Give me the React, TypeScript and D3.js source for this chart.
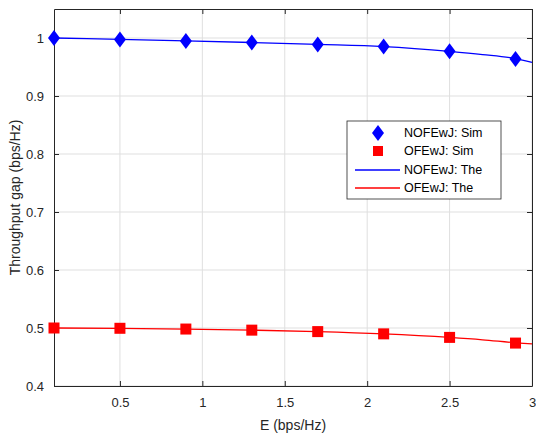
import React, { useRef, useEffect } from "react";
import * as d3 from "d3";

// simulated points
const simE = [0.1, 0.5, 0.9, 1.3, 1.7, 2.1, 2.5, 2.9];
const nofeSim = [1.0, 0.9975, 0.995, 0.9922, 0.989, 0.9853, 0.977, 0.964];
const ofeSim = [0.5, 0.4995, 0.4982, 0.4963, 0.4938, 0.4899, 0.4838, 0.474];

// theoretical curves
const theE = [0.1, 0.5, 0.9, 1.3, 1.7, 2.1, 2.5, 2.7, 2.9, 3.0];
const nofeThe = [1.0, 0.9975, 0.995, 0.9922, 0.989, 0.9853, 0.977, 0.9715, 0.9645, 0.958];
const ofeThe = [0.5, 0.4995, 0.4982, 0.4963, 0.4938, 0.4899, 0.4838, 0.4797, 0.4745, 0.4725];

const xTicks = [0.5, 1, 1.5, 2, 2.5, 3];
const yTicks = [0.4, 0.5, 0.6, 0.7, 0.8, 0.9, 1];

const legendItems = ["NOFEwJ: Sim", "OFEwJ: Sim", "NOFEwJ: The", "OFEwJ: The"];

export default function App() {
  const svgRef = useRef<SVGSVGElement>(null);

  useEffect(() => {
    const svg = d3.select(svgRef.current);
    svg.selectAll("*").remove();

    const margin = { top: 9, right: 4, bottom: 51, left: 54 };
    const width = 536 - margin.left - margin.right;
    const height = 437 - margin.top - margin.bottom;
    const font = "Helvetica, Arial, 'Liberation Sans', sans-serif";

    const x = d3.scaleLinear().domain([0.1, 3]).range([0, width]);
    const y = d3.scaleLinear().domain([0.4, 1.05]).range([height, 0]);

    const g = svg.append("g").attr("transform", `translate(${margin.left},${margin.top})`);

    g.append("rect").attr("width", width).attr("height", height).attr("fill", "#fff");

    // grid
    g.selectAll(".gx")
      .data(xTicks)
      .enter()
      .append("line")
      .attr("x1", (d) => x(d))
      .attr("x2", (d) => x(d))
      .attr("y1", 0)
      .attr("y2", height)
      .attr("stroke", "#dfdfdf");
    g.selectAll(".gy")
      .data(yTicks)
      .enter()
      .append("line")
      .attr("x1", 0)
      .attr("x2", width)
      .attr("y1", (d) => y(d))
      .attr("y2", (d) => y(d))
      .attr("stroke", "#dfdfdf");

    // axes
    const xAxis = d3.axisBottom(x).tickValues(xTicks).tickSizeInner(-5).tickSizeOuter(0).tickPadding(12).tickFormat(d3.format("~g"));
    const yAxis = d3.axisLeft(y).tickValues(yTicks).tickSizeInner(-5).tickSizeOuter(0).tickPadding(10).tickFormat(d3.format("~g"));
    const xTop = d3.axisTop(x).tickValues(xTicks).tickSizeInner(-5).tickSizeOuter(0).tickFormat(() => "");
    const yRight = d3.axisRight(y).tickValues(yTicks).tickSizeInner(-5).tickSizeOuter(0).tickFormat(() => "");

    const styleAxis = (sel: any) => {
      sel.select(".domain").attr("stroke", "#262626");
      sel.selectAll(".tick line").attr("stroke", "#262626");
      sel.selectAll("text").attr("fill", "#262626").style("font-family", font).style("font-size", "13px");
    };

    g.append("g").attr("transform", `translate(0,${height})`).call(xAxis).call(styleAxis);
    g.append("g").call(yAxis).call(styleAxis);
    g.append("g").call(xTop).call(styleAxis);
    g.append("g").attr("transform", `translate(${width},0)`).call(yRight).call(styleAxis);

    // lines
    const line = d3
      .line<number>()
      .x((_, i) => x(theE[i]))
      .y((d) => y(d))
      .curve(d3.curveMonotoneX);

    g.append("path").datum(nofeThe).attr("d", line).attr("fill", "none").attr("stroke", "#0000ff").attr("stroke-width", 1.3);
    g.append("path").datum(ofeThe).attr("d", line).attr("fill", "none").attr("stroke", "#ff0000").attr("stroke-width", 1.3);

    const diamond = (cx: number, cy: number) =>
      `M${cx},${cy - 8}L${cx + 6},${cy}L${cx},${cy + 8}L${cx - 6},${cy}Z`;

    g.selectAll(".dm")
      .data(nofeSim)
      .enter()
      .append("path")
      .attr("d", (d, i) => diamond(x(simE[i]), y(d)))
      .attr("fill", "#0000ff");

    g.selectAll(".sq")
      .data(ofeSim)
      .enter()
      .append("rect")
      .attr("x", (d, i) => x(simE[i]) - 5.5)
      .attr("y", (d) => y(d) - 5.5)
      .attr("width", 11)
      .attr("height", 11)
      .attr("fill", "#ff0000");

    // axis labels
    svg
      .append("text")
      .attr("x", margin.left + width / 2)
      .attr("y", 430)
      .attr("text-anchor", "middle")
      .style("font-family", font)
      .style("font-size", "14px")
      .attr("fill", "#262626")
      .text("E (bps/Hz)");
    svg
      .append("text")
      .attr("transform", `translate(20,${margin.top + height / 2}) rotate(-90)`)
      .attr("text-anchor", "middle")
      .style("font-family", font)
      .style("font-size", "14px")
      .attr("fill", "#262626")
      .text("Throughput gap (bps/Hz)");

    // legend
    const lg = svg.append("g").attr("transform", "translate(347,121)");
    lg.append("rect").attr("width", 154).attr("height", 78).attr("fill", "#fff").attr("stroke", "#262626").attr("stroke-width", 0.8);
    const rowY = [12, 30, 49, 67];
    lg.append("path").attr("d", diamond(31, rowY[0])).attr("fill", "#0000ff");
    lg.append("rect").attr("x", 26).attr("y", rowY[1] - 5).attr("width", 10).attr("height", 10).attr("fill", "#ff0000");
    lg.append("line").attr("x1", 8).attr("x2", 53).attr("y1", rowY[2]).attr("y2", rowY[2]).attr("stroke", "#0000ff").attr("stroke-width", 1.3);
    lg.append("line").attr("x1", 8).attr("x2", 53).attr("y1", rowY[3]).attr("y2", rowY[3]).attr("stroke", "#ff0000").attr("stroke-width", 1.3);
    lg.selectAll(".lt")
      .data(legendItems)
      .enter()
      .append("text")
      .attr("x", 57)
      .attr("y", (d, i) => rowY[i])
      .attr("dy", "0.35em")
      .style("font-family", font)
      .style("font-size", "12.5px")
      .attr("fill", "#000")
      .text((d) => d);
  }, []);

  return (
    <svg
      ref={svgRef}
      width={536}
      height={437}
      style={{ position: "absolute", left: 0, top: 0, background: "#fff" }}
    />
  );
}
